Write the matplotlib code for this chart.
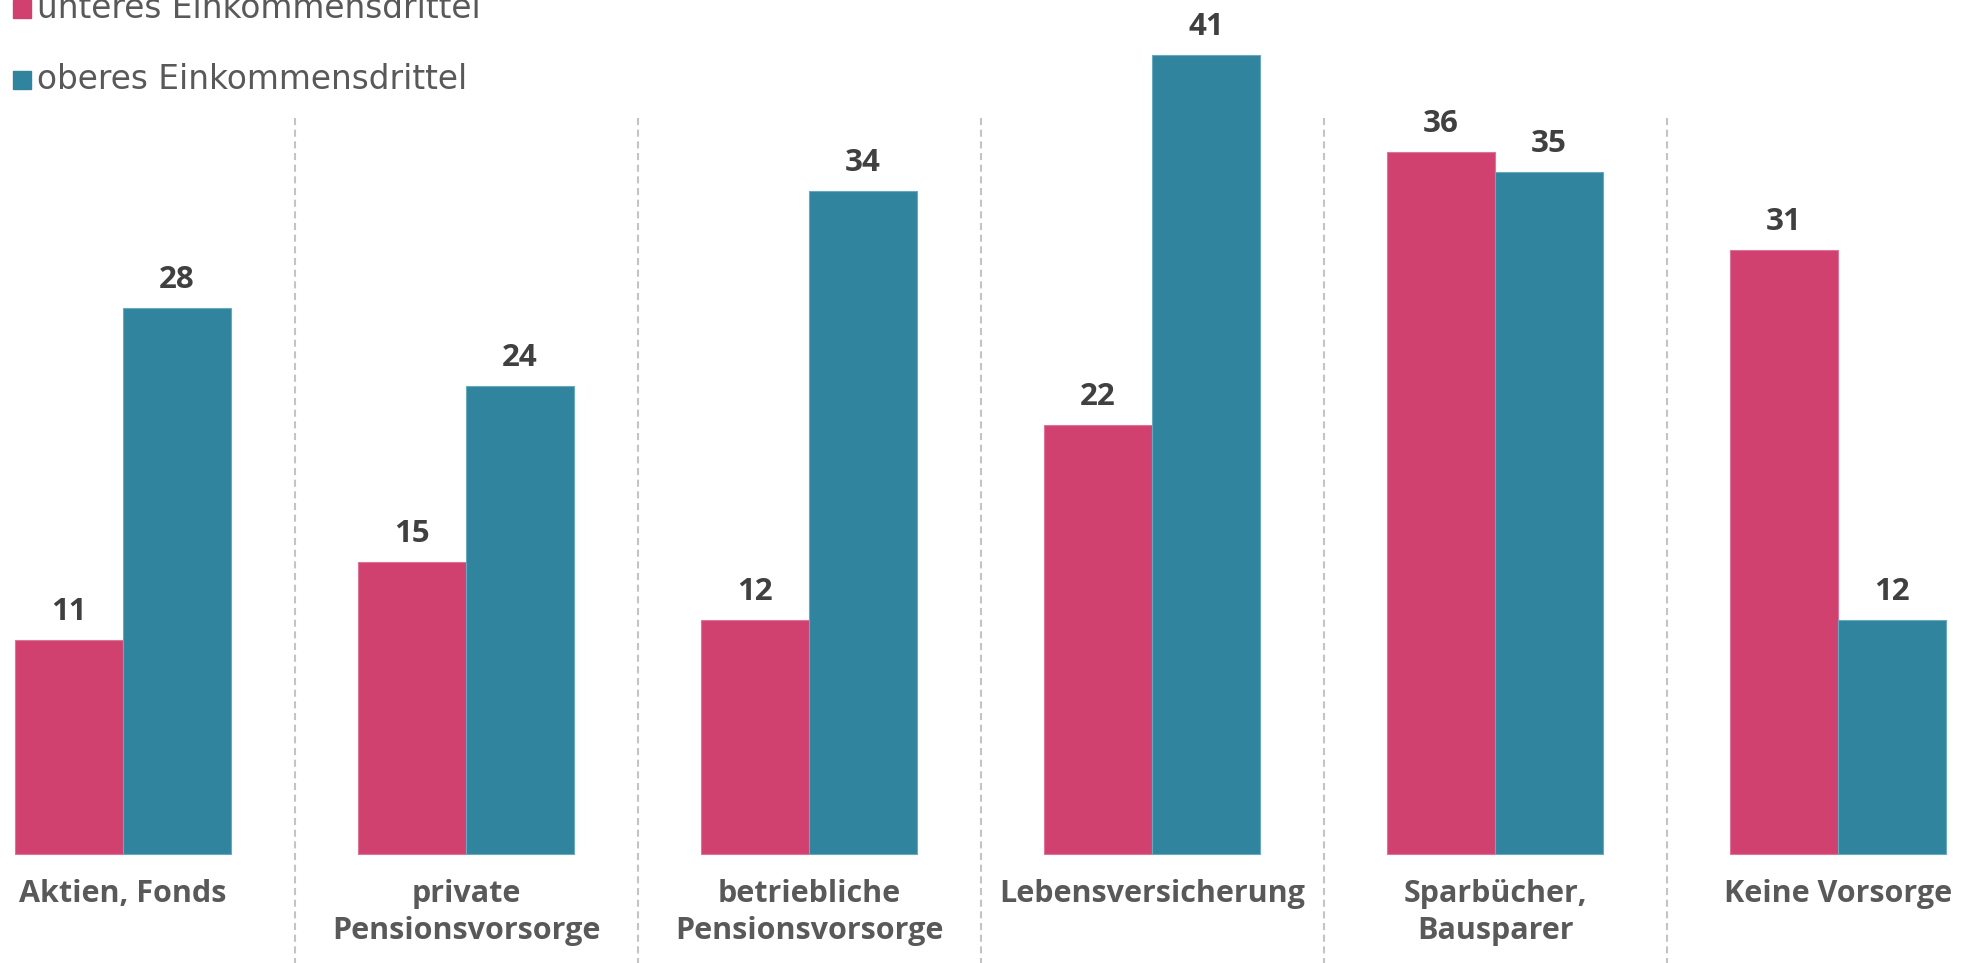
import numpy as np
import matplotlib
matplotlib.use("Agg")
import matplotlib.pyplot as plt
from matplotlib.patches import Rectangle

# Daten
categories = ["Aktien, Fonds", "private\nPensionsvorsorge", "betriebliche\nPensionsvorsorge",
              "Lebensversicherung", "Sparbücher,\nBausparer", "Keine Vorsorge"]
unteres = [11, 15, 12, 22, 36, 31]
oberes = [28, 24, 34, 41, 35, 12]
series_names = ["unteres Einkommensdrittel", "oberes Einkommensdrittel"]

PINK = "#D04170"
TEAL = "#31849D"
FONT = "Open Sans"

W, H = 1970, 963
fig = plt.figure(figsize=(W / 100, H / 100), dpi=100)
ax = fig.add_axes([0, 0, 1, 1])
ax.set_axis_off()

# Skalierung: Gruppenabstand 343 px, 19.5 px pro Prozentpunkt, Basislinie bei y=854
ax.set_xlim(-123 / 343, (W - 123) / 343)
ax.set_ylim(-(H - 854) / 19.5, 854 / 19.5)

x = np.arange(len(categories))
bw = 108 / 343
b1 = ax.bar(x - bw / 2, unteres, bw, color=PINK, edgecolor="#dc7399", linewidth=0.8)
b2 = ax.bar(x + bw / 2, oberes, bw, color=TEAL, edgecolor="#6aa9bd", linewidth=0.8)

# Trennlinien zwischen den Gruppen
for k in range(len(categories) - 1):
    ax.plot([k + 0.5, k + 0.5], [(854 - 118) / 19.5, -10], color="#c4c4c4",
            lw=1.5, ls=(0, (3.4, 2.2)), clip_on=False, zorder=0)

# Werte über den Balken
for bars, vals in [(b1, unteres), (b2, oberes)]:
    for rect, v in zip(bars, vals):
        ax.annotate(str(v), xy=(rect.get_x() + rect.get_width() / 2, v),
                    xytext=(0, 20 * 0.72), textcoords="offset points",
                    ha="center", va="baseline", fontsize=22.5, fontweight="bold",
                    color="#404040", family=FONT)

# Kategorien unter den Balken
for i, lab in enumerate(categories):
    for j, line in enumerate(lab.split("\n")):
        ax.annotate(line, xy=(x[i], 0), xytext=(0, -(48 + 37 * j) * 0.72),
                    textcoords="offset points", ha="center", va="baseline",
                    fontsize=22, fontweight="bold", color="#595959", family=FONT)

# Legende oben links
for (name, col, base) in [(series_names[0], PINK, 18), (series_names[1], TEAL, 89)]:
    fig.patches.append(Rectangle((13 / W, (H - base) / H), 18 / W, 18 / H,
                                 transform=fig.transFigure, color=col))
    fig.text(37 / W, (H - base) / H, name, fontsize=23.6, color="#595959",
             family="DejaVu Sans", ha="left", va="baseline")

fig.savefig("out.png", dpi=100, facecolor="white")
